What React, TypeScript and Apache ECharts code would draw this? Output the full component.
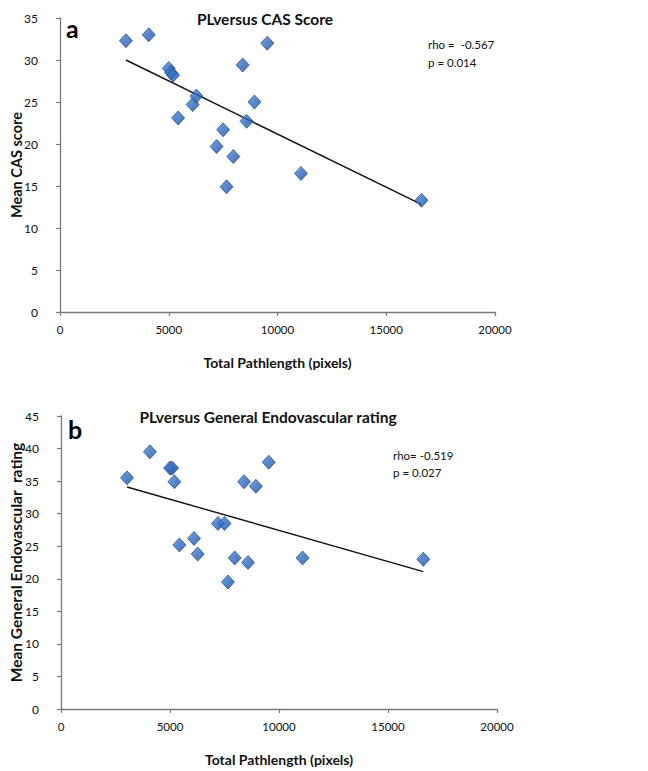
import React, { useEffect, useRef } from "react";
import * as echarts from "echarts";

// Shared x values (Total Pathlength, pixels) for the subjects
const pathLength = [3030, 4080, 5000, 5100, 5200, 5430, 6100, 6270, 7200, 7500, 7660, 7970, 8400, 8580, 8940, 9530, 11080, 16620];
// Panel a: Mean CAS score
const casScore = [32.3, 33.0, 29.0, 28.5, 28.2, 23.1, 24.7, 25.7, 19.7, 21.7, 14.9, 18.5, 29.4, 22.7, 25.0, 32.0, 16.5, 13.3];
// Panel b: Mean General Endovascular rating
const generalRating = [35.5, 39.5, 37.0, 37.0, 34.9, 25.2, 26.2, 23.8, 28.5, 28.5, 19.5, 23.2, 34.9, 22.5, 34.2, 37.9, 23.2, 23.0];

// Trend line end points
const trendA = [[3030, 30.0], [16620, 12.8]];
const trendB = [[3030, 34.1], [16620, 21.1]];

const xTicks = { min: 0, max: 20000, interval: 5000 };
const yTicksA = { min: 0, max: 35, interval: 5 };
const yTicksB = { min: 0, max: 45, interval: 5 };

const titleA = "PLversus CAS Score";
const titleB = "PLversus General Endovascular rating";
const statsA = ["rho =  -0.567", "p = 0.014"];
const statsB = ["rho= -0.519", "p = 0.027"];

const FONT = "Lato, 'Open Sans', sans-serif";

const markerColor = new echarts.graphic.LinearGradient(0, 0, 1, 1, [
  { offset: 0, color: "#5b90dc" },
  { offset: 0.45, color: "#2f6cc0" },
  { offset: 1, color: "#1d4f98" },
]);

export default function App() {
  const ref = useRef<HTMLDivElement>(null);
  useEffect(() => {
    if (!ref.current) return;
    const chart = echarts.init(ref.current, null, { renderer: "svg" });
    const axisLine = { show: true, lineStyle: { color: "#7a7a7a", width: 1.3 } };
    const axisTick = { show: true, length: 4, lineStyle: { color: "#7a7a7a", width: 1.2 } };
    const axisLabel = { color: "#111", fontFamily: FONT, fontSize: 11.5 };
    const nameStyle = (size: number) => ({ color: "#111", fontFamily: FONT, fontSize: size, fontWeight: "bold" as const });
    const makeX = (gridIndex: number) => ({
      type: "value",
      gridIndex,
      ...xTicks,
      axisLine,
      axisTick,
      axisLabel: { ...axisLabel, margin: 11, formatter: (v: number) => String(v) },
      splitLine: { show: false },
      name: "Total Pathlength (pixels)",
      nameLocation: "middle",
      nameGap: 43,
      nameMoveOverlap: false,
      nameTextStyle: nameStyle(14),
    });
    const scatterStyle = {
      color: markerColor,
      borderColor: "#1a468a",
      borderWidth: 0.9,
    };
    chart.setOption({
      animation: false,
      backgroundColor: "#ffffff",
      grid: [
        { left: 60, top: 18, width: 435, height: 294, containLabel: false, outerBoundsMode: "none" },
        { left: 61, top: 416, width: 436, height: 293, containLabel: false, outerBoundsMode: "none" },
      ],
      xAxis: [makeX(0), makeX(1)],
      yAxis: [
        {
          type: "value",
          gridIndex: 0,
          ...yTicksA,
          axisLine,
          axisTick,
          axisLabel: { ...axisLabel, margin: 22, fontSize: 12 },
          splitLine: { show: false },
          name: "Mean CAS score",
          nameLocation: "middle",
          nameGap: 36,
          nameMoveOverlap: false,
          nameTextStyle: nameStyle(14.5),
        },
        {
          type: "value",
          gridIndex: 1,
          ...yTicksB,
          axisLine,
          axisTick,
          axisLabel: { ...axisLabel, margin: 22, fontSize: 12 },
          splitLine: { show: false },
          name: "Mean General Endovascular  rating",
          nameLocation: "middle",
          nameGap: 37,
          nameMoveOverlap: false,
          nameTextStyle: nameStyle(15.5),
        },
      ],
      series: [
        {
          type: "line",
          xAxisIndex: 0,
          yAxisIndex: 0,
          data: trendA,
          symbol: "none",
          lineStyle: { color: "#111", width: 1.4 },
          z: 1,
        },
        {
          type: "scatter",
          xAxisIndex: 0,
          yAxisIndex: 0,
          symbol: "diamond",
          symbolSize: [13, 14],
          data: pathLength.map((x, i) => [x, casScore[i]]),
          itemStyle: scatterStyle,
          z: 2,
        },
        {
          type: "line",
          xAxisIndex: 1,
          yAxisIndex: 1,
          data: trendB,
          symbol: "none",
          lineStyle: { color: "#111", width: 1.4 },
          z: 1,
        },
        {
          type: "scatter",
          xAxisIndex: 1,
          yAxisIndex: 1,
          symbol: "diamond",
          symbolSize: [13, 14],
          data: pathLength.map((x, i) => [x, generalRating[i]]),
          itemStyle: scatterStyle,
          z: 2,
        },
      ],
      graphic: [
        {
          type: "text",
          x: 265,
          y: 19,
          style: { text: titleA, font: `bold 15.5px ${FONT}`, fill: "#111", textAlign: "center", textVerticalAlign: "middle" },
        },
        {
          type: "text",
          x: 268,
          y: 417,
          style: { text: titleB, font: `bold 15.5px ${FONT}`, fill: "#111", textAlign: "center", textVerticalAlign: "middle" },
        },
        {
          type: "text",
          x: 66,
          y: 28,
          style: { text: "a", font: `bold 25px ${FONT}`, fill: "#000", textAlign: "left", textVerticalAlign: "middle" },
        },
        {
          type: "text",
          x: 68,
          y: 429,
          style: { text: "b", font: `bold 25px ${FONT}`, fill: "#000", textAlign: "left", textVerticalAlign: "middle" },
        },
        {
          type: "text",
          x: 428,
          y: 44,
          style: { text: statsA[0], font: `11.5px ${FONT}`, fill: "#111", textVerticalAlign: "middle" },
        },
        {
          type: "text",
          x: 428,
          y: 62,
          style: { text: statsA[1], font: `11.5px ${FONT}`, fill: "#111", textVerticalAlign: "middle" },
        },
        {
          type: "text",
          x: 393,
          y: 455,
          style: { text: statsB[0], font: `11.5px ${FONT}`, fill: "#111", textVerticalAlign: "middle" },
        },
        {
          type: "text",
          x: 393,
          y: 472,
          style: { text: statsB[1], font: `11.5px ${FONT}`, fill: "#111", textVerticalAlign: "middle" },
        },
      ],
    });
    return () => chart.dispose();
  }, []);
  return (
    <div
      ref={ref}
      style={{ position: "fixed", left: 0, top: 0, width: 648, height: 771, background: "#fff" }}
    />
  );
}
